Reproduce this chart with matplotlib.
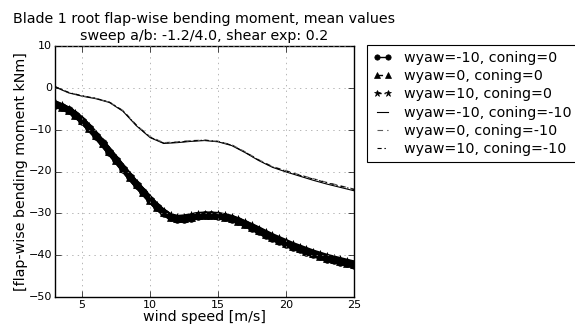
import matplotlib
matplotlib.use('Agg')
import matplotlib.pyplot as plt
import numpy as np

plt.style.use('classic')

# wind speeds
ws_fine = np.arange(3.0, 25.01, 0.5)
ws = np.arange(3, 26, 1)

# coning = 0 (markers)
m_yawm10_c0 = [-4.0, -4.6, -5.4, -6.5, -7.9, -9.6, -11.4, -13.3, -15.3, -17.3, -19.3, -21.3,
               -23.2, -25.0, -26.8, -28.5, -29.9, -30.9, -31.4, -31.3, -31.0, -30.7, -30.5,
               -30.5, -30.6, -30.9, -31.3, -31.9, -32.6, -33.4, -34.3, -35.1, -35.9, -36.6,
               -37.3, -38.0, -38.6, -39.2, -39.8, -40.3, -40.8, -41.2, -41.6, -41.9, -42.3]
m_yaw0_c0 = [-3.8, -4.5, -5.3, -6.4, -7.8, -9.5, -11.3, -13.2, -15.2, -17.2, -19.2, -21.2,
             -23.1, -24.9, -26.7, -28.4, -29.8, -30.8, -31.2, -31.1, -30.8, -30.5, -30.4,
             -30.4, -30.5, -30.8, -31.2, -31.8, -32.5, -33.3, -34.1, -34.9, -35.7, -36.4,
             -37.1, -37.8, -38.4, -39.0, -39.6, -40.1, -40.6, -41.0, -41.4, -41.8, -42.1]
m_yaw10_c0 = [-3.7, -4.4, -5.2, -6.3, -7.7, -9.4, -11.2, -13.1, -15.1, -17.1, -19.1, -21.1,
              -23.0, -24.8, -26.6, -28.3, -29.7, -30.7, -31.1, -31.0, -30.7, -30.4, -30.3,
              -30.3, -30.4, -30.7, -31.1, -31.7, -32.4, -33.1, -33.9, -34.7, -35.5, -36.2,
              -36.9, -37.6, -38.2, -38.8, -39.4, -39.9, -40.4, -40.8, -41.2, -41.6, -42.0]

# coning = -10 (lines only)
m_yawm10_cm10 = [0.2, -1.2, -2.0, -2.6, -3.5, -5.6, -9.1, -11.9, -13.3, -13.1, -12.8, -12.6,
                 -12.9, -13.8, -15.5, -17.4, -19.0, -20.1, -21.1, -22.1, -23.0, -23.8, -24.6]
m_yaw0_cm10 = [0.3, -1.1, -1.9, -2.5, -3.4, -5.4, -8.9, -11.7, -13.1, -12.9, -12.6, -12.5,
               -12.8, -13.6, -15.3, -17.2, -18.8, -19.8, -20.8, -21.7, -22.6, -23.4, -24.2]
m_yaw10_cm10 = [0.3, -1.1, -1.9, -2.5, -3.4, -5.5, -9.0, -11.8, -13.2, -13.0, -12.7, -12.5,
                -12.8, -13.7, -15.4, -17.3, -18.9, -19.9, -20.9, -21.8, -22.7, -23.5, -24.3]

labels = ['wyaw=-10, coning=0', 'wyaw=0, coning=0', 'wyaw=10, coning=0',
          'wyaw=-10, coning=-10', 'wyaw=0, coning=-10', 'wyaw=10, coning=-10']

fs = 10.3

fig = plt.figure(figsize=(5.75, 3.25), dpi=100, facecolor='white')
ax = fig.add_axes([55 / 575, 1 - 297 / 325, 299 / 575, 251 / 325])

# dense marker series: thick underlay so overlapping markers read as one band
for yv in (m_yawm10_c0, m_yaw0_c0, m_yaw10_c0):
    ax.plot(ws_fine, yv, 'k-', lw=4.5, solid_capstyle='round')
ax.plot(ws_fine, m_yawm10_c0, 'k-o', ms=5.5, mec='k', label=labels[0])
ax.plot(ws_fine, m_yaw0_c0, 'k--^', ms=5.5, mec='k', dashes=(4, 3), label=labels[1])
ax.plot(ws_fine, m_yaw10_c0, 'k-.*', ms=6.5, mec='k', dashes=(3, 2, 1, 2), label=labels[2])
ax.plot(ws, m_yawm10_cm10, 'k-', lw=0.8, label=labels[3])
ax.plot(ws, m_yaw0_cm10, '--', lw=0.8, color='0.35', dashes=(4, 3), label=labels[4])
ax.plot(ws, m_yaw10_cm10, 'k-.', lw=0.8, dashes=(3, 2, 1, 2), label=labels[5])

ax.set_xlim(3, 25)
ax.set_ylim(-50, 10)
ax.set_xticks([5, 10, 15, 20, 25])
ax.set_yticks([10, 0, -10, -20, -30, -40, -50])
ax.tick_params(labelsize=8, pad=2)
ax.grid(True, color='0.6', linestyle=':')
ax.set_xlabel('wind speed [m/s]', fontsize=fs)
ax.set_ylabel('[flap-wise bending moment kNm]', fontsize=fs)
ax.xaxis.set_label_coords(0.5, -(324 - 297) / 251, transform=ax.transAxes)
ax.yaxis.set_label_coords(-(55 - 21) / 299, 0.5)
ax.xaxis.label.set_va('bottom')
ax.yaxis.label.set_va('center')

cx = (55 + 354) / 2 / 575
fig.text(cx, 1 - 23 / 325, 'Blade 1 root flap-wise bending moment, mean values',
         ha='center', va='baseline', fontsize=fs)
fig.text(cx, 1 - 40 / 325, 'sweep a/b: -1.2/4.0, shear exp: 0.2',
         ha='center', va='baseline', fontsize=fs)

handles, labs = ax.get_legend_handles_labels()
leg = fig.legend(handles, labs, loc='upper left', bbox_to_anchor=(367 / 575, 1 - 45 / 325),
                 fontsize=fs, numpoints=2, handlelength=1.4, handletextpad=0.8,
                 borderaxespad=0, borderpad=0.4, labelspacing=0.3, markerscale=0.7)
leg.get_frame().set_linewidth(0.8)

fig.savefig('out.png', dpi=100, facecolor='white')
